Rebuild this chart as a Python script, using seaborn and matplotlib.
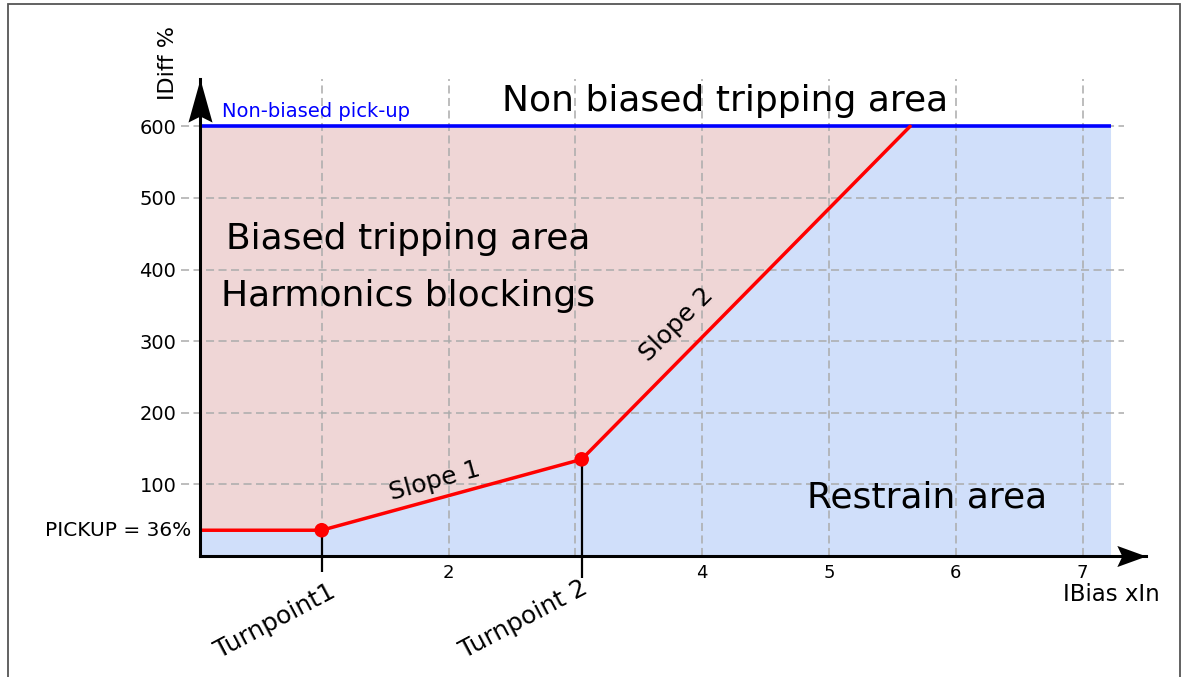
import numpy as np
import matplotlib
matplotlib.use("Agg")
import matplotlib.pyplot as plt
from matplotlib.path import Path
from matplotlib.patches import Rectangle
import seaborn as sns

# Differential protection characteristic (IDiff % vs IBias xIn)
pickup = 36                      # PICKUP = 36 %
nonbiased_pickup = 600           # non-biased pick-up level, %
turn_x = [1.0, 3.05]             # Turnpoint1, Turnpoint 2 (xIn)
turn_y = [36, 135]               # IDiff % at the turnpoints
char_x = [0.04, 1.0, 3.05, 5.64] # characteristic up to the non-biased level
char_y = [36, 36, 135, 600]
x_end = 7.22

x_ticks = [2, 4, 5, 6, 7]
x_tick_labels = ["2", "4", "5", "6", "7"]
grid_x = [1, 2, 3, 4, 5, 6, 7]
y_ticks = [100, 200, 300, 400, 500, 600]

x_min, x_max = 0.04, 7.5
y_min, y_max = 0, 666

sns.set_theme(style="white")
plt.rcParams["font.family"] = ["DejaVu Sans"]
plt.rcParams["lines.scale_dashes"] = False
plt.rcParams["text.color"] = "black"

fig = plt.figure(figsize=(11.86, 6.77), dpi=100)
ax = fig.add_axes([0.1686, 0.1787, 0.7977, 0.7046])
ax.set_xlim(x_min, x_max)
ax.set_ylim(y_min, y_max)

pink = "#EFD6D6"
blue_fill = "#D0DFFA"
grid_c = "#ABABAB"

# Areas
restrain_x = char_x + [x_end]
restrain_y = char_y + [nonbiased_pickup]
ax.fill_between(char_x, char_y, nonbiased_pickup, color=pink, lw=0, zorder=1)
ax.fill_between(restrain_x, 0, restrain_y, color=blue_fill, lw=0, zorder=1)

# Dashed grid
dash = (0, (5.8, 3.2))
ax.vlines(grid_x, y_min, y_max, colors=grid_c, linestyles=[dash], lw=1.1, zorder=2)
ax.hlines(y_ticks, -0.11, 7.33, colors=grid_c, linestyles=[dash], lw=1.1,
          zorder=2, clip_on=False)

# Non-biased pick-up line
ax.plot([x_min, x_end], [nonbiased_pickup, nonbiased_pickup], color="#0000FF",
        lw=2.6, zorder=4, solid_capstyle="butt")

# Turnpoint markers on the axis
for tx, ty, low in zip(turn_x, turn_y, [-22, -30]):
    ax.plot([tx, tx], [ty, low], color="black", lw=1.6, zorder=3,
            clip_on=False, solid_capstyle="butt")

# Biased characteristic
sns.lineplot(x=char_x, y=char_y, ax=ax, color="#FF0000", lw=2.5, zorder=5,
             sort=False, estimator=None)
sns.scatterplot(x=turn_x, y=turn_y, ax=ax, color="#FF0000", s=110,
                edgecolor="none", zorder=6)

# Axes styling
for side in ["top", "right"]:
    ax.spines[side].set_visible(False)
for side in ["left", "bottom"]:
    ax.spines[side].set_linewidth(2.2)
    ax.spines[side].set_color("black")
    ax.spines[side].set_zorder(7)

ax.set_xticks(x_ticks)
ax.set_xticklabels(x_tick_labels, fontsize=13)
ax.set_yticks(y_ticks)
ax.set_yticklabels([str(v) for v in y_ticks], fontsize=14)
ax.tick_params(axis="x", length=0, pad=6, colors="black")
ax.tick_params(axis="y", length=0, pad=17, colors="black")

# Axis arrow heads
up_arrow = Path([(0, 0), (-12, -43), (0, -37), (12, -43), (0, 0)],
                [Path.MOVETO, Path.LINETO, Path.LINETO, Path.LINETO, Path.CLOSEPOLY])
right_arrow = Path([(0, 0), (-29, 10.5), (-24, 0), (-29, -10.5), (0, 0)],
                   [Path.MOVETO, Path.LINETO, Path.LINETO, Path.LINETO, Path.CLOSEPOLY])
ax.plot([x_min], [y_max], marker=up_arrow, markersize=62, color="black",
        markeredgewidth=0, clip_on=False, zorder=8)
ax.plot([x_max], [y_min], marker=right_arrow, markersize=42, color="black",
        markeredgewidth=0, clip_on=False, zorder=8)

# Axis titles
ax.text(-0.21, 689, "IDiff %", rotation=90, ha="center", va="center",
        fontsize=16, clip_on=False)
ax.text(7.23, -54, "IBias xIn", ha="center", va="center", fontsize=16.5,
        clip_on=False)

# Labels
ax.text(0.21, 612.5, "Non-biased pick-up", color="#0000FF", fontsize=14,
        ha="left", va="baseline")
ax.annotate(f"PICKUP = {pickup}%", xy=(x_min, pickup), xytext=(-6.5, 0),
            textcoords="offset points", ha="right", va="center", fontsize=14.5,
            annotation_clip=False)
ax.text(4.18, 621, "Non biased tripping area", fontsize=26, ha="center",
        va="baseline")
ax.text(1.68, 428, "Biased tripping area", fontsize=26, ha="center",
        va="baseline", zorder=6)
ax.text(1.68, 348.6, "Harmonics blockings", fontsize=26, ha="center",
        va="baseline", zorder=6)
ax.text(5.77, 68, "Restrain area", fontsize=26, ha="center", va="baseline",
        zorder=6)
ax.text(1.89, 104, "Slope 1", fontsize=18, rotation=15.4, rotation_mode="anchor",
        ha="center", va="center", zorder=6)
ax.text(3.80, 323, "Slope 2", fontsize=18, rotation=45, rotation_mode="anchor",
        ha="center", va="center", zorder=6)
ax.text(1.05, -33, "Turnpoint1", fontsize=18, rotation=28, rotation_mode="anchor",
        ha="right", va="top", clip_on=False)
ax.text(3.04, -28, "Turnpoint 2", fontsize=18, rotation=28, rotation_mode="anchor",
        ha="right", va="top", clip_on=False)

# Outer frame
fig.add_artist(Rectangle((8 / 1186, -0.1), (1180 - 8) / 1186, (677 - 4) / 677 + 0.1,
                         transform=fig.transFigure, fill=False, ec="#555555",
                         lw=1.3))

fig.savefig("out.png", dpi=100)
